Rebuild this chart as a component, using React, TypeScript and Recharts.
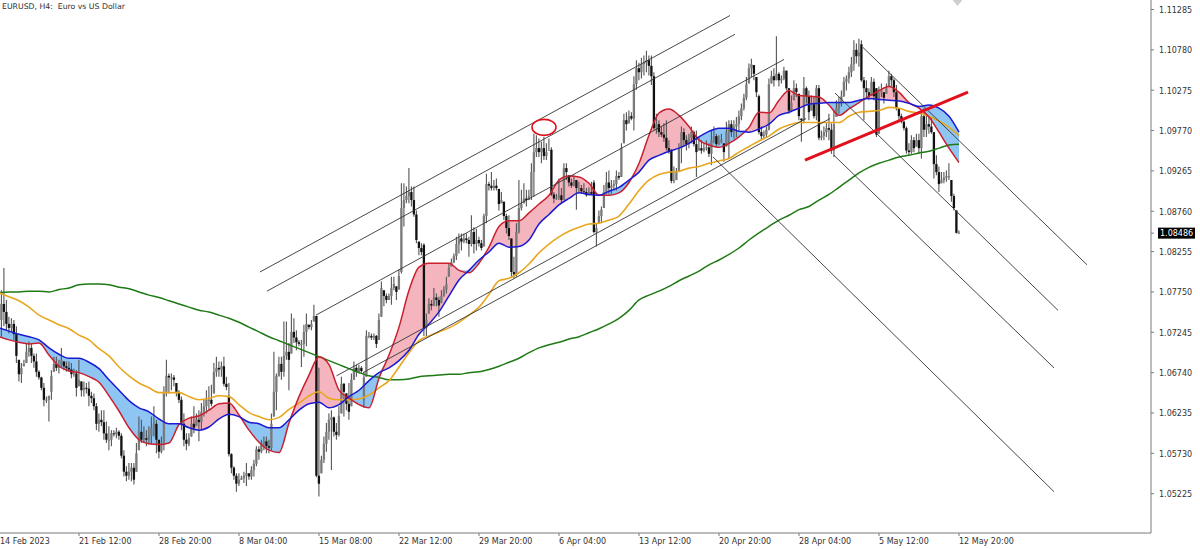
import { Area, Bar, ComposedChart, Line, ReferenceDot, ReferenceLine, XAxis, YAxis } from "recharts";

// all prices below are in pips above 1.0000 (763 = 1.0763), one entry per H4 bar
const opens = [
  745,740,760,750,735,730,735,722,695,672,680,685,700,705,695,688,675,668,655,640,
  640,650,670,685,680,683,690,682,680,678,672,673,655,665,652,655,654,645,642,632,
  610,615,612,598,590,590,598,597,600,595,570,550,545,550,555,540,573,600,590,592,
  590,595,605,610,590,575,585,650,670,668,668,665,650,640,610,590,585,592,610,605,
  615,612,625,632,640,640,635,675,680,678,682,660,645,572,555,545,535,540,542,545,
  548,544,552,560,578,575,585,588,582,580,610,650,670,685,675,695,700,690,725,718,
  712,710,710,725,735,731,735,745,545,535,565,585,600,615,618,600,596,620,660,650,
  635,625,665,680,675,680,640,668,720,720,718,720,710,740,780,770,765,770,780,785,
  775,800,880,890,895,900,890,872,840,830,834,730,740,760,758,768,765,758,770,778,
  785,805,812,820,835,842,838,842,840,835,850,835,840,836,830,870,910,908,905,908,
  905,885,890,870,855,845,800,797,850,880,885,892,890,895,925,950,955,950,955,945,
  950,953,897,892,893,896,890,930,925,912,908,915,905,905,901,900,896,900,912,850,
  855,870,878,900,912,905,908,910,920,918,955,990,985,995,992,1035,1055,1050,1060,1062,
  1065,1058,1045,980,985,975,972,968,955,952,914,915,925,955,975,965,960,968,975,960,
  950,955,952,955,956,948,965,970,960,962,966,950,975,985,975,982,985,995,1005,1018,
  1035,1055,1060,1048,1020,975,970,972,978,1035,1045,1040,1048,1040,1042,1052,1030,1002,1012,1030,
  1025,995,990,1030,1020,1000,1010,995,1030,968,970,975,980,978,952,985,1005,1012,1020,1038,
  1042,1050,1060,1078,1070,1085,1040,1030,1025,1020,1038,1030,972,1025,1028,1018,1030,1045,1040,1025,
  1005,995,988,980,952,950,965,955,965,955,995,978,985,982,975,935,925,910,915,918,
  920,920,895,880,849,
];
const highs = [
  757,777,805,765,744,742,740,732,690,686,690,711,713,711,698,698,677,669,661,644,
  645,677,694,694,690,705,688,688,688,686,679,677,690,663,663,661,663,650,648,636,
  623,627,627,613,607,602,602,605,602,598,577,557,561,561,561,586,619,615,607,602,
  607,619,632,615,590,594,657,690,673,673,671,661,652,644,623,598,598,619,632,623,
  627,636,640,652,657,659,686,694,688,688,694,669,661,573,557,548,548,545,550,561,
  548,557,565,582,582,590,594,594,590,623,700,673,694,694,738,738,711,748,742,727,
  715,715,734,748,734,740,759,745,680,570,594,611,623,627,619,611,632,669,661,648,
  661,673,688,684,684,682,675,727,725,723,723,721,748,788,777,773,773,794,794,782,
  803,911,911,907,930,907,907,877,838,836,836,748,767,765,780,773,769,777,782,794,
  811,817,823,844,848,848,848,848,844,871,856,854,844,840,873,923,913,925,915,917,
  904,900,888,873,871,842,819,861,915,903,911,903,903,936,973,971,967,963,969,961,
  967,956,900,898,917,905,936,936,921,917,921,915,913,909,911,905,906,913,915,861,
  877,882,909,925,927,915,915,927,925,961,998,1000,1002,1000,1045,1065,1062,1068,1071,1077,
  1071,1071,1050,998,990,982,986,990,965,954,932,930,961,982,980,971,973,982,977,977,
  969,965,961,965,961,977,982,973,971,973,961,988,990,990,990,994,1002,1011,1023,1044,
  1061,1067,1059,1044,1022,982,977,982,1042,1052,1055,1095,1050,1046,1057,1052,1030,1021,1040,1036,
  1023,992,1044,1032,1027,1021,1019,1034,1034,977,982,986,998,986,1002,1015,1019,1027,1044,1046,
  1057,1069,1090,1086,1092,1090,1044,1040,1030,1044,1042,1030,1032,1036,1025,1036,1052,1048,1042,1034,
  1004,998,990,982,961,971,969,973,973,1002,1005,996,994,994,975,946,932,925,925,927,
  936,915,898,877,852,
];
const lows = [
  719,719,732,727,723,725,715,686,663,661,682,686,694,686,680,669,665,652,632,636,
  613,640,675,676,673,680,677,675,675,667,669,644,657,644,644,648,632,636,627,602,
  600,607,590,586,577,582,594,592,590,567,544,538,540,538,534,550,577,586,586,582,
  584,584,594,573,567,573,577,644,648,652,657,644,636,602,582,577,582,594,598,607,
  588,602,619,623,627,632,648,669,669,669,657,652,569,548,540,525,532,540,536,532,
  540,540,544,557,565,573,577,573,573,577,619,627,669,665,669,690,652,698,711,702,
  707,681,694,707,728,727,738,543,519,548,561,575,590,552,594,590,594,623,619,627,
  615,632,665,669,673,673,630,669,717,715,715,705,715,744,757,761,765,759,777,765,
  778,798,857,886,886,882,869,836,821,821,720,720,748,752,757,757,744,761,769,773,
  794,807,811,815,823,827,836,836,819,832,823,827,832,827,832,861,902,902,902,902,
  877,886,865,848,840,794,792,794,848,877,886,882,890,890,894,944,944,936,940,940,
  953,895,886,890,890,886,890,915,907,905,907,878,900,898,898,894,896,896,848,832,
  861,861,880,898,898,898,902,902,915,919,961,977,986,990,977,1028,1040,1042,1046,1050,
  1046,1034,978,973,969,969,963,952,948,911,911,915,925,936,957,952,955,961,957,919,
  952,948,950,952,944,934,961,957,959,961,938,957,942,969,967,969,977,990,1002,1015,
  1036,1044,1040,1019,972,965,967,969,977,1036,1032,1040,1032,1036,1040,1027,998,1000,1015,1019,
  990,963,986,1011,990,1002,992,990,965,965,965,969,965,948,944,994,998,1007,1019,1027,
  1036,1044,1052,1061,1057,1038,990,1019,1015,1021,1015,969,973,1019,1011,1023,1032,1032,1019,1002,
  990,986,977,948,946,948,950,957,948,942,969,969,973,973,917,921,900,911,911,913,
  915,888,877,848,848,
];
const closes = [
  740,760,750,735,730,735,722,695,672,680,685,700,705,695,688,675,668,655,640,640,
  650,670,685,680,683,690,682,680,678,672,673,655,665,652,655,654,645,642,632,610,
  615,612,598,590,590,598,597,600,595,570,550,545,550,555,540,573,600,590,592,590,
  595,605,610,590,575,585,650,670,668,668,665,650,640,610,590,585,592,610,605,615,
  612,625,632,640,640,635,675,680,678,682,660,656,572,555,545,535,540,542,545,548,
  544,552,560,578,575,585,588,582,580,610,650,670,685,675,695,700,690,725,718,712,
  710,710,725,735,731,735,745,545,535,565,585,600,615,618,600,596,620,660,650,635,
  625,665,680,675,680,676,668,720,720,718,720,710,740,780,770,765,770,780,785,775,
  795,880,890,895,900,890,872,840,830,825,730,740,760,758,768,765,758,770,778,785,
  805,812,820,835,842,838,842,840,835,850,835,840,836,830,870,910,908,905,908,905,
  885,890,870,855,845,800,797,850,880,885,892,890,895,925,950,955,950,955,945,950,
  953,897,892,893,896,890,930,925,912,908,915,905,905,901,900,896,900,898,850,855,
  870,878,900,912,905,908,910,920,918,955,990,985,995,992,1035,1055,1050,1060,1062,1065,
  1058,1045,980,985,975,972,968,955,950,914,915,925,955,975,965,960,968,975,960,950,
  955,952,955,956,948,965,970,960,962,966,950,975,985,975,982,985,995,1005,1018,1035,
  1055,1060,1048,1025,975,970,972,978,1035,1045,1040,1048,1040,1042,1052,1030,1002,1012,1030,1025,
  995,990,1030,1020,1000,1010,995,1030,968,970,975,980,978,952,985,1005,1012,1020,1038,1042,
  1050,1060,1078,1070,1075,1040,1030,1025,1020,1038,1020,972,1025,1028,1018,1030,1045,1040,1025,1005,
  995,988,980,952,950,965,955,965,955,995,978,985,982,975,935,925,910,915,918,920,
  920,895,880,849,849,
];

// moving averages, read every 4th bar
const maStep = 4;
const greenMa = [
  774,775,775,776,776,775,778,780,784,785,785,784,781,779,775,771,768,764,760,756,
  752,750,746,742,737,731,725,719,714,709,704,699,694,689,684,679,674,670,668,665,
  665,666,669,670,671,672,672,674,675,678,682,687,692,699,705,709,712,716,719,724,
  729,735,742,752,765,771,776,782,789,795,801,809,815,822,830,840,849,857,865,871,
  878,882,890,897,906,915,924,931,936,940,944,946,949,951,955,959,960,
];
const orangeMa = [
  774,769,764,756,746,740,734,729,721,715,704,695,681,670,661,655,649,649,649,644,
  640,642,645,644,634,624,619,615,618,628,636,645,650,642,640,640,641,646,655,664,
  681,699,714,720,725,730,737,746,756,772,789,792,799,810,824,835,844,851,856,860,
  861,865,870,885,902,915,922,925,926,930,932,936,939,942,950,957,964,970,979,984,
  987,987,987,987,987,995,1000,1001,1002,1006,1005,1001,999,995,989,981,971,
];
const blueMa = [
  730,726,722,719,715,705,697,692,692,687,679,665,652,639,630,625,616,610,610,605,
  602,606,616,622,619,612,610,605,605,615,627,635,637,630,634,644,652,664,674,680,
  689,702,722,735,750,770,790,802,815,825,836,831,832,840,860,872,884,892,899,897,
  896,901,906,915,925,940,946,951,955,961,969,976,980,980,976,975,979,985,996,1000,
  1005,1010,1011,1012,1012,1012,1015,1017,1016,1015,1014,1011,1007,1009,1005,995,975,
];
const redMa = [
  719,715,712,710,711,696,682,676,674,669,662,645,626,605,590,585,584,586,609,617,
  620,627,635,636,621,602,587,577,574,611,644,671,694,684,652,642,634,630,667,696,
  731,777,806,811,811,811,802,799,811,831,857,864,864,874,885,896,915,920,919,911,
  896,896,899,912,936,971,999,1004,996,982,965,959,956,961,969,981,1000,999,1015,1027,
  1021,1020,1019,1009,996,1004,1012,1020,1027,1032,1025,1012,1005,994,975,955,937,
];

const xTickBars = [0,32,64,96,128,160,192,224,256,288,320,352,384];
const xTickLabels = ["14 Feb 2023","21 Feb 12:00","28 Feb 20:00","8 Mar 04:00","15 Mar 08:00","22 Mar 12:00","29 Mar 20:00","6 Apr 04:00","13 Apr 12:00","20 Apr 20:00","28 Apr 04:00","5 May 12:00","12 May 20:00"];
const yTicks = [1.11285,1.1078,1.10275,1.0977,1.09265,1.0876,1.08255,1.0775,1.07245,1.0674,1.06235,1.0573,1.05225];
const lastPrice = 1.08486;

// [bar, pips, bar, pips]
const channelLines = [
  [104.4,800,292.4,1121],
  [107.2,776,294.4,1097.5],
  [126.8,746,314,1066],
  [135,670,322.8,992],
  [145.6,674,332.4,992],
];
const fallingLines = [
  [345.6,1081,435.2,809],
  [334.4,1024,423.6,752],
  [334,946,422,680],
  [285.6,944,422,525],
];
const breakLine = [322.4,940,387.6,1025];
const topMarker = [218,981];
const logoMarker = [383.4,1138];

const toPrice = (pips: number) => 1 + pips / 10000;

const table = opens.map((o, i) => ({
  bar: i,
  o: toPrice(o),
  c: toPrice(closes[i]),
  range: [toPrice(lows[i]), toPrice(highs[i])],
}));

const maTable = redMa.map((r, k) => {
  const red = toPrice(r);
  const blue = toPrice(blueMa[k]);
  return {
    bar: k * maStep,
    red,
    blue,
    orange: toPrice(orangeMa[k]),
    green: toPrice(greenMa[k]),
    pinkBand: [blue, Math.max(red, blue)],
    blueBand: [red, Math.max(red, blue)],
  };
});

function Candle(props: any) {
  const { x, y, width, height, payload } = props;
  const [low, high] = payload.range;
  const perPrice = height / (high - low);
  const cx = x + width / 2;
  const top = y + Math.max(0, high - Math.max(payload.o, payload.c)) * perPrice;
  const bottom = y + Math.min(high - low, high - Math.min(payload.o, payload.c)) * perPrice;
  const down = payload.c < payload.o;
  return (
    <g>
      <line x1={cx} x2={cx} y1={y} y2={y + height} stroke="#555" strokeWidth={1.1} />
      <rect x={x} y={top} width={width} height={Math.max(bottom - top, 1)} fill={down ? "#111" : "#7a7a7a"} />
    </g>
  );
}

function TimeTick({ x, y, payload }: any) {
  const k = xTickBars.indexOf(payload.value);
  return (
    <text x={Math.max(x, 0)} y={y + 6} fontFamily="DejaVu Sans" fontSize={8} fill="#333">
      {xTickLabels[k]}
    </text>
  );
}

function PriceTick({ x, y, payload }: any) {
  if (payload.value === lastPrice) {
    return (
      <g>
        <rect x={x + 2} y={y - 5.5} width={37} height={11} fill="#000" />
        <text x={x + 4} y={y + 3} fontFamily="DejaVu Sans" fontSize={8} fill="#fff">
          {payload.value.toFixed(5)}
        </text>
      </g>
    );
  }
  return (
    <text x={x + 3} y={y + 3.5} fontFamily="DejaVu Sans" fontSize={8} fill="#333">
      {payload.value.toFixed(5)}
    </text>
  );
}

export default function App() {
  return (
    <div style={{ position: "absolute", left: 0, top: 0, background: "#fff" }}>
      <ComposedChart width={1200} height={549} data={table} margin={{ top: 0, right: 0, bottom: 0, left: -1 }}>
        <XAxis
          dataKey="bar"
          type="number"
          domain={[0, 460.8]}
          ticks={xTickBars}
          interval={0}
          height={16}
          tickSize={3}
          stroke="#7a7a7a"
          tick={TimeTick}
        />
        <YAxis
          orientation="right"
          type="number"
          domain={[1.04733, 1.11404]}
          ticks={[...yTicks, lastPrice]}
          interval={0}
          width={49}
          tickSize={3}
          stroke="#7a7a7a"
          tick={PriceTick}
        />
        <Area data={maTable} dataKey="pinkBand" type="monotone" stroke="none" fill="#f5b5bf" fillOpacity={1} dot={false} activeDot={false} isAnimationActive={false} />
        <Area data={maTable} dataKey="blueBand" type="monotone" stroke="none" fill="#8fc5f3" fillOpacity={1} dot={false} activeDot={false} isAnimationActive={false} />
        <Bar dataKey="range" barSize={2.3} shape={Candle} isAnimationActive={false} />
        <Line data={maTable} dataKey="green" type="monotone" stroke="#1e7a14" strokeWidth={1.5} dot={false} activeDot={false} isAnimationActive={false} />
        <Line data={maTable} dataKey="orange" type="monotone" stroke="#e8a71e" strokeWidth={1.6} dot={false} activeDot={false} isAnimationActive={false} />
        <Line data={maTable} dataKey="red" type="monotone" stroke="#c9202e" strokeWidth={1.5} dot={false} activeDot={false} isAnimationActive={false} />
        <Line data={maTable} dataKey="blue" type="monotone" stroke="#1a1ad2" strokeWidth={1.5} dot={false} activeDot={false} isAnimationActive={false} />
        {[...channelLines, ...fallingLines].map(([b1, p1, b2, p2], n) => (
          <ReferenceLine
            key={n}
            segment={[{ x: b1, y: toPrice(p1) }, { x: b2, y: toPrice(p2) }]}
            stroke="#333"
            strokeWidth={0.9}
            ifOverflow="visible"
          />
        ))}
        <ReferenceLine
          segment={[{ x: breakLine[0], y: toPrice(breakLine[1]) }, { x: breakLine[2], y: toPrice(breakLine[3]) }]}
          stroke="#e2101c"
          strokeWidth={3}
          ifOverflow="visible"
        />
        <ReferenceDot
          x={topMarker[0]}
          y={toPrice(topMarker[1])}
          ifOverflow="visible"
          shape={(p: any) => <ellipse cx={p.cx} cy={p.cy} rx={12} ry={8} fill="none" stroke="#e2101c" strokeWidth={1.6} />}
        />
        <ReferenceDot
          x={logoMarker[0]}
          y={toPrice(logoMarker[1])}
          ifOverflow="visible"
          shape={(p: any) => <path d={`M${p.cx - 5} ${p.cy - 2}h10l-5 6z`} fill="#cfcfcf" />}
        />
        <text x={2} y={9} fontFamily="DejaVu Sans" fontSize={7.75} fill="#333" xmlSpace="preserve">
          EURUSD, H4:  Euro vs US Dollar
        </text>
      </ComposedChart>
    </div>
  );
}
